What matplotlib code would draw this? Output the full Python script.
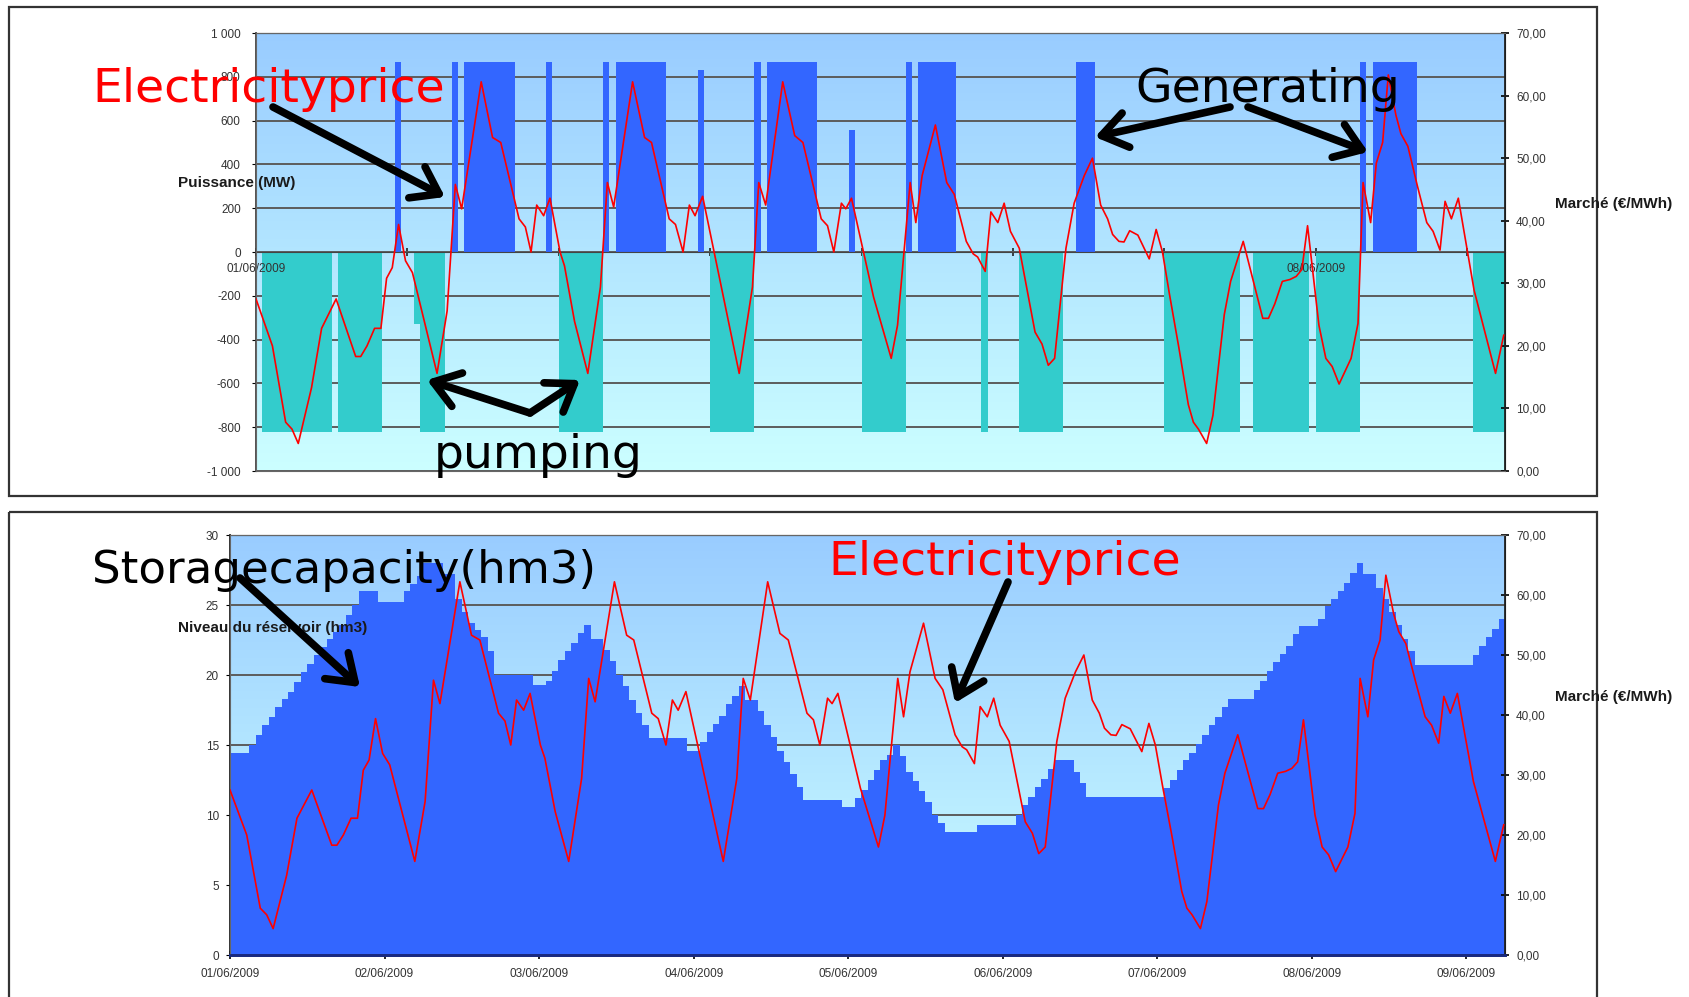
import numpy as np
import matplotlib.pyplot as plt
from matplotlib.colors import LinearSegmentedColormap
from matplotlib.ticker import FuncFormatter
from matplotlib.patches import Rectangle

W, H = 1689, 997

# turbine operation blocks (start hour, duration in hours, power in MW)
gen_start = [22, 31, 33, 46, 55, 57, 70, 79, 81, 94, 103, 105, 130, 175, 177]
gen_len = [1, 1, 8, 1, 1, 8, 1, 1, 8, 1, 1, 6, 3, 1, 7]
gen_mw = [867, 867, 867, 867, 867, 867, 830, 867, 867, 555, 867, 867, 867, 867, 867]

pump_start = [1, 13, 25, 26, 48, 72, 96, 115, 121, 144, 158, 168, 193]
pump_len = [11, 7, 1, 4, 7, 7, 7, 1, 7, 12, 9, 7, 5]
pump_mw = [-822, -822, -330, -822, -822, -822, -822, -822, -822, -822, -822, -822, -822]

# market price (hour, EUR/MWh)
price_h = [0, 2.6, 4.7, 5.7, 6.7, 8.8, 10.4, 12.7, 15.8, 16.6, 17.6, 18.8, 19.8, 20.7, 21.6,
           22.6, 23.7, 24.8, 28.7, 30.3, 31.6, 32.6, 35.7, 37.5, 38.8, 41.7, 42.7, 43.6, 44.5,
           45.6, 46.6, 48.2, 48.9, 50.5, 52.6, 54.6, 55.7, 56.7, 59.7, 61.6, 62.7, 65.5, 66.5,
           67.7, 68.7, 69.6, 70.8, 76.6, 78.7, 79.7, 80.8, 83.5, 85.4, 86.7, 89.6, 90.6, 91.6,
           92.8, 93.5, 94.4, 97.9, 100.7, 101.7, 103.7, 104.6, 105.6, 107.7, 109.5, 110.7,
           112.6, 113.7, 114.4, 115.6, 116.5, 117.6, 118.6, 119.6, 121, 123.5, 124.6, 125.6,
           126.6, 128.4, 129.7, 131.3, 132.6, 133.9, 135, 135.8, 136.8, 137.6, 138.5, 139.8,
           141.6, 142.7, 143.7, 144.8, 146.3, 147.8, 148.6, 149.4, 150.7, 151.7, 153.5, 154.5,
           156.5, 159.6, 160.5, 161.5, 162.7, 163.9, 164.9, 165.8, 166.7, 168.5, 169.6, 170.6,
           171.7, 173.6, 174.7, 175.5, 176.7, 177.6, 178.6, 179.5, 180.7, 181.5, 182.6, 184.1,
           185.6, 186.6, 187.7, 188.5, 189.5, 190.6, 193.1, 196.5, 197.8]
price = [27.5, 20, 7.8, 6.7, 4.4, 13.3, 22.8, 27.5, 18.3, 18.3, 20, 22.8, 22.8, 30.8, 32.5,
         39.4, 33.6, 31.7, 15.6, 25.6, 45.8, 41.9, 62.2, 53.3, 52.5, 40.3, 39, 35, 42.5,
         40.8, 43.6, 35, 32.8, 23.9, 15.6, 29.4, 46.1, 42.2, 62.2, 53.3, 52.5, 40.3, 39.4,
         35, 42.5, 40.8, 43.9, 15.6, 29.4, 46.1, 42.5, 62.2, 53.6, 52.5, 40.3, 39.2, 35,
         42.8, 41.9, 43.6, 27.8, 18, 23.3, 46.1, 39.7, 47.2, 55.3, 46.1, 44.2,
         36.7, 34.7, 34.2, 31.9, 41.4, 39.7, 42.8, 38.3, 35.6, 22.2, 20.3, 16.9,
         18, 35.6, 42.8, 47.2, 50, 42.5, 40.3, 37.8, 36.7, 36.6, 38.4, 37.7,
         33.9, 38.6, 35, 28.3, 19.7, 10.6, 7.8, 6.7, 4.4, 8.9, 25, 30.3,
         36.7, 24.4, 24.4, 26.7, 30.3, 30.6, 31.1, 32.2, 39.2, 23.3, 18, 16.7,
         13.9, 18, 23.6, 46.1, 39.7, 49.2, 52.5, 63.3, 56.9, 53.9, 51.9, 45.6,
         39.7, 38.3, 35.3, 43.1, 40.3, 43.6, 28.9, 15.6, 21.7]

# reservoir level, one value per hour (hm3)
level = [14.4, 14.4, 14.4, 15.0, 15.7, 16.4, 17.0, 17.7, 18.3, 18.8,
         19.5, 20.2, 20.8, 21.4, 22.0, 22.6, 23.1, 23.6, 24.3, 25.0,
         26.0, 26.0, 26.0, 25.2, 25.2, 25.2, 25.2, 26.0, 26.5, 27.1,
         28.0, 28.0, 28.0, 27.2, 27.2, 25.4, 24.5, 23.7, 23.2, 22.7,
         21.7, 20.0, 20.0, 20.0, 20.0, 20.0, 20.0, 19.3, 19.3, 19.6,
         20.3, 21.1, 21.7, 22.3, 23.0, 23.6, 22.6, 22.6, 21.8, 21.0,
         20.0, 19.2, 18.2, 17.3, 16.4, 15.5, 15.5, 15.5, 15.5, 15.5,
         15.5, 14.6, 14.6, 15.2, 15.9, 16.5, 17.1, 17.9, 18.5, 19.2,
         18.2, 18.2, 17.4, 16.4, 15.6, 14.6, 13.8, 12.9, 12.0, 11.1,
         11.1, 11.1, 11.1, 11.1, 11.1, 10.6, 10.6, 11.2, 11.8, 12.5,
         13.2, 13.9, 14.3, 15.0, 14.2, 13.1, 12.4, 11.7, 10.9, 10.0,
         9.4, 8.8, 8.8, 8.8, 8.8, 8.8, 9.3, 9.3, 9.3, 9.3,
         9.3, 9.3, 10.0, 10.7, 11.3, 12.0, 12.6, 13.3, 13.9, 13.9,
         13.9, 13.1, 12.3, 11.3, 11.3, 11.3, 11.3, 11.3, 11.3, 11.3,
         11.3, 11.3, 11.3, 11.3, 11.3, 11.9, 12.5, 13.2, 13.9, 14.4,
         15.1, 15.7, 16.4, 17.0, 17.7, 18.3, 18.3, 18.3, 18.3, 18.9,
         19.6, 20.3, 20.95, 21.5, 22.1, 22.9, 23.5, 23.5, 23.5, 24.0,
         24.9, 25.4, 26.0, 26.6, 27.3, 28.0, 27.2, 27.2, 26.2, 25.4,
         24.5, 23.6, 22.6, 21.7, 20.7, 20.7, 20.7, 20.7, 20.7, 20.7,
         20.7, 20.7, 20.7, 21.4, 22.1, 22.7, 23.3, 24.0]

dates = ['01/06/2009', '02/06/2009', '03/06/2009', '04/06/2009', '05/06/2009',
         '06/06/2009', '07/06/2009', '08/06/2009', '09/06/2009']
day_hours = [0, 24, 48, 72, 96, 120, 144, 168, 192]
top_label_days = [0, 7]

plt.rcParams['font.family'] = ['Liberation Sans', 'DejaVu Sans']

BLUE = '#3366FF'
TEAL = '#33CCCC'
GRID = '#5c5c5c'
bg_cmap = LinearSegmentedColormap.from_list('bg', ['#CCFFFF', '#99CCFF'])
grad = np.linspace(0, 1, 256).reshape(-1, 1)

fig = plt.figure(figsize=(W / 100, H / 100), dpi=100)

mw_fmt = FuncFormatter(lambda v, p: f"{int(v):,}".replace(',', ' '))
eur_fmt = FuncFormatter(lambda v, p: f"{v:.2f}".replace('.', ','))


def background(ax):
    ax.imshow(grad, cmap=bg_cmap, aspect='auto', origin='lower',
              extent=[0, 1, 0, 1], transform=ax.transAxes, zorder=0)


def style_right(axr):
    axr.set_ylim(0, 70)
    axr.set_yticks(np.arange(0, 71, 10))
    axr.yaxis.set_major_formatter(eur_fmt)
    axr.tick_params(axis='y', direction='inout', length=6, width=1.2, pad=5,
                    labelsize=8.5, labelcolor='#333333')
    axr.spines['right'].set_color('#222222')
    axr.spines['right'].set_linewidth(1.3)
    for s in ['left', 'top', 'bottom']:
        axr.spines[s].set_color('#666666')


# ---- top panel: power ----
ax1 = fig.add_axes([256 / W, 1 - 471 / H, (1505 - 256) / W, 438 / H])
background(ax1)
ax1.bar(gen_start, gen_mw, width=gen_len, align='edge', color=BLUE, linewidth=0, zorder=2)
ax1.bar(pump_start, pump_mw, width=pump_len, align='edge', color=TEAL, linewidth=0, zorder=2)
ax1.set_xlim(0, 198)
ax1.set_ylim(-1000, 1000)
ax1.set_yticks(np.arange(-1000, 1001, 200))
ax1.yaxis.set_major_formatter(mw_fmt)
ax1.yaxis.grid(True, color=GRID, lw=1.4)
ax1.set_axisbelow(True)
ax1.tick_params(axis='y', direction='out', length=3, pad=8, labelsize=8.5, labelcolor='#333333')
ax1.spines['bottom'].set_position(('data', 0))
ax1.spines['bottom'].set_color('#444444')
ax1.spines['left'].set_color('#444444')
ax1.spines['left'].set_linewidth(1.3)
ax1.set_xticks(day_hours)
ax1.set_xticklabels([])
ax1.tick_params(axis='x', direction='inout', length=6, width=1.2, color='#222222')
for d in top_label_days:
    ax1.annotate(dates[d], xy=(day_hours[d], 0), xytext=(0, -8), textcoords='offset points',
                 ha='center', va='top', fontsize=8.5, color='#333333', zorder=6)

ax1b = ax1.twinx()
ax1b.plot(price_h, price, color='#FF0000', lw=1.2, zorder=3)
style_right(ax1b)

# ---- bottom panel: reservoir ----
ax2 = fig.add_axes([230 / W, 1 - 955 / H, (1505 - 230) / W, 420 / H])
background(ax2)
ax2.stairs(level, np.arange(len(level) + 1), fill=True, baseline=0, color=BLUE, zorder=2)
ax2.set_xlim(0, 198)
ax2.set_ylim(0, 30)
ax2.set_yticks(np.arange(0, 31, 5))
ax2.yaxis.grid(True, color=GRID, lw=1.4)
ax2.set_axisbelow(True)
ax2.tick_params(axis='y', direction='out', length=3, pad=5, labelsize=8.5, labelcolor='#333333')
ax2.set_xticks(day_hours)
ax2.set_xticklabels(dates)
ax2.tick_params(axis='x', direction='inout', length=6, width=1.2, pad=6,
                labelsize=8.5, labelcolor='#333333')
ax2.spines['bottom'].set_color('#1a2a80')
ax2.spines['bottom'].set_linewidth(2)
ax2.spines['left'].set_color('#222222')
ax2.spines['left'].set_linewidth(1.3)

ax2b = ax2.twinx()
ax2b.plot(price_h, price, color='#FF0000', lw=1.2, zorder=3)
style_right(ax2b)
ax2b.spines['bottom'].set_color('#1a2a80')
ax2b.spines['bottom'].set_linewidth(2)

# ---- overlay in pixel units: frames, axis titles, hand-written notes ----
ov = fig.add_axes([0, 0, 1, 1], zorder=10)
ov.set_xlim(0, W)
ov.set_ylim(H, 0)
ov.axis('off')

ov.add_patch(Rectangle((9, 7), 1588, 489, fill=False, edgecolor='#333333', lw=1.6))
ov.add_patch(Rectangle((9, 512), 1588, 500, fill=False, edgecolor='#333333', lw=1.6, clip_on=False))

lab = dict(fontsize=11, fontweight='bold', color='#1a1a1a', va='center', ha='left')
ov.text(178, 183, 'Puissance (MW)', **lab)
ov.text(1555, 204, 'Marché (€/MWh)', **lab)
ov.text(178, 628, 'Niveau du réservoir (hm3)', **lab)
ov.text(1555, 697, 'Marché (€/MWh)', **lab)

note = dict(family='DejaVu Sans', va='baseline', ha='left')
ov.text(92, 102, 'Electricityprice', color='red', fontsize=34, **note)
ov.text(1135, 102, 'Generating', color='black', fontsize=34, **note)
ov.text(434, 468, 'pumping', color='black', fontsize=34, **note)
ov.text(92, 583, 'Storagecapacity(hm3)', color='black', fontsize=32.5, **note)
ov.text(828, 575, 'Electricityprice', color='red', fontsize=34, **note)

arrows = [((273, 107), (445, 197)), ((530, 413), (427, 380)), ((530, 413), (580, 380)),
          ((1230, 107), (1095, 137)), ((1248, 107), (1368, 152)),
          ((240, 578), (360, 687)), ((1008, 582), (955, 703))]
for tail, head in arrows:
    ov.annotate('', xy=head, xytext=tail,
                arrowprops=dict(arrowstyle='->,head_length=0.6,head_width=0.42',
                                lw=5.5, color='black', mutation_scale=30,
                                shrinkA=0, shrinkB=0))

fig.savefig('out.png', dpi=100)
